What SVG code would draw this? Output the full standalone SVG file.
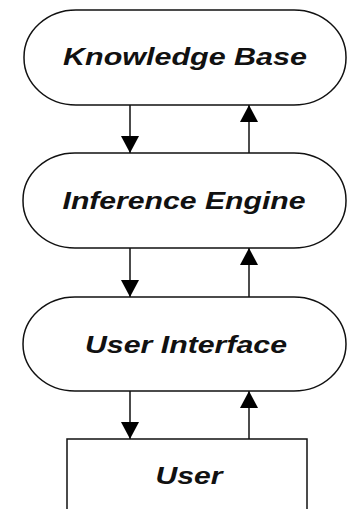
<svg xmlns="http://www.w3.org/2000/svg" width="347" height="509" viewBox="0 0 347 509">
<defs>
<marker id="ah" viewBox="0 0 10 10" refX="10" refY="5" markerWidth="10" markerHeight="10" markerUnits="userSpaceOnUse" orient="auto">
<path d="M0,0 L10,5 L0,10 Z" fill="#000"/>
</marker>
<style>
.pill{fill:#fff;stroke:#111;stroke-width:1.5}
.lbl{font-family:"Liberation Sans",Arial,sans-serif;font-style:italic;font-weight:bold;font-size:24px;fill:#111;text-anchor:middle}
.con line{stroke:#111;stroke-width:1.5;marker-end:url(#ah)}
</style>
</defs>
<rect width="347" height="509" fill="#fff"/>
<g id="connectors" class="con">
<line x1="130" y1="105" x2="130" y2="153" style="marker-end:none"/>
<line x1="249" y1="153" x2="249" y2="105" style="marker-end:none"/>
<line x1="130" y1="248" x2="130" y2="297" style="marker-end:none"/>
<line x1="249" y1="297" x2="249" y2="248" style="marker-end:none"/>
<line x1="130" y1="391" x2="130" y2="439" style="marker-end:none"/>
<line x1="249" y1="439" x2="249" y2="391" style="marker-end:none"/>
<path d="M121,136 L139,136 L130,153 Z" fill="#000"/>
<path d="M240,122 L258,122 L249,105 Z" fill="#000"/>
<path d="M121,280 L139,280 L130,297 Z" fill="#000"/>
<path d="M240,265 L258,265 L249,248 Z" fill="#000"/>
<path d="M121,422 L139,422 L130,439 Z" fill="#000"/>
<path d="M240,408 L258,408 L249,391 Z" fill="#000"/>
</g>
<g id="knowledge-base">
<rect class="pill" x="24" y="10" width="322" height="95" rx="52" ry="47"/>
<text class="lbl" x="185" y="65" textLength="244" lengthAdjust="spacingAndGlyphs">Knowledge Base</text>
</g>
<g id="inference-engine">
<rect class="pill" x="23" y="153" width="323" height="95" rx="52" ry="47"/>
<text class="lbl" x="184" y="209" textLength="243" lengthAdjust="spacingAndGlyphs">Inference Engine</text>
</g>
<g id="user-interface">
<rect class="pill" x="23" y="297" width="323" height="94" rx="52" ry="47"/>
<text class="lbl" x="186" y="353" textLength="202" lengthAdjust="spacingAndGlyphs">User Interface</text>
</g>
<g id="user">
<rect x="67" y="439" width="240" height="80" fill="#fff" stroke="#111" stroke-width="1.5"/>
<text class="lbl" x="189" y="484" textLength="67" lengthAdjust="spacingAndGlyphs">User</text>
</g>
</svg>
